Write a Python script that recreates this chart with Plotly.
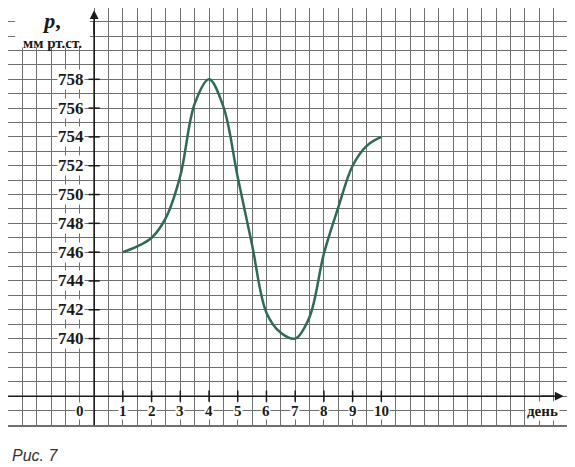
import plotly.graph_objects as go

# Data
days = [1, 1.5, 2, 2.5, 3, 3.5, 4, 4.5, 5, 5.5, 6, 6.5, 7, 7.5, 8, 8.5, 9, 9.5, 10]
pressure = [746, 746.4, 747, 748.4, 751.3, 756.3, 758, 756.1, 751.2, 746.5, 741.8, 740.4, 740,
            741.5, 745.9, 749.1, 752, 753.4, 754]
x_tick_vals = [1, 2, 3, 4, 5, 6, 7, 8, 9, 10]
x_tick_text = ["1", "2", "3", "4", "5", "6", "7", "8", "9", "10"]
y_tick_vals = [740, 742, 744, 746, 748, 750, 752, 754, 756, 758]
y_tick_text = ["740", "742", "744", "746", "748", "750", "752", "754", "756", "758"]

X_RANGE = [-3, 16.5]
Y_RANGE = [734, 762.95]
X_AXIS_Y = 736
GRID = "#707070"
INK = "#1a1a1a"
SERIF = "Liberation Serif"

fig = go.Figure()

# curve
fig.add_trace(go.Scatter(
    x=days, y=pressure, mode="lines",
    line=dict(color="#2e6b52", width=2.5, shape="spline", smoothing=1.0),
    hoverinfo="skip", showlegend=False,
))

# axis lines (drawn over the grid)
fig.add_trace(go.Scatter(x=[0, 0], y=[Y_RANGE[0], 762.0], mode="lines",
                         line=dict(color=INK, width=1.6), showlegend=False, hoverinfo="skip"))
fig.add_trace(go.Scatter(x=[X_RANGE[0], 16.0], y=[X_AXIS_Y, X_AXIS_Y], mode="lines",
                         line=dict(color=INK, width=1.6), showlegend=False, hoverinfo="skip"))

# tick marks
fig.add_trace(go.Scatter(
    x=x_tick_vals, y=[X_AXIS_Y] * len(x_tick_vals), mode="markers",
    marker=dict(symbol="line-ns", size=8, line=dict(color=INK, width=1.5)),
    showlegend=False, hoverinfo="skip"))
fig.add_trace(go.Scatter(
    x=[0] * len(y_tick_vals), y=y_tick_vals, mode="markers",
    marker=dict(symbol="line-ew", size=8, line=dict(color=INK, width=1.5)),
    showlegend=False, hoverinfo="skip"))

annotations = []
# arrows
annotations.append(dict(x=0, y=762.8, ax=0, ay=761.0, xref="x", yref="y", axref="x", ayref="y",
                        text="", showarrow=True, arrowhead=2, arrowsize=1.1, arrowwidth=1.6,
                        arrowcolor=INK, standoff=0))
annotations.append(dict(x=16.35, y=X_AXIS_Y, ax=15.5, ay=X_AXIS_Y, xref="x", yref="y", axref="x", ayref="y",
                        text="", showarrow=True, arrowhead=2, arrowsize=1.1, arrowwidth=1.6,
                        arrowcolor=INK, standoff=0))

# y labels
for v, t in zip(y_tick_vals, y_tick_text):
    annotations.append(dict(x=-0.8, y=v, xref="x", yref="y", text="<b>%s</b>" % t, showarrow=False,
                            font=dict(family=SERIF, size=17, color=INK), bgcolor="white",
                            borderpad=0, xanchor="center", yanchor="middle"))
# x labels
annotations.append(dict(x=-0.5, y=735, xref="x", yref="y", text="<b>0</b>", showarrow=False,
                        font=dict(family=SERIF, size=15, color=INK), bgcolor="white",
                        borderpad=0, xanchor="center", yanchor="middle"))
for v, t in zip(x_tick_vals, x_tick_text):
    annotations.append(dict(x=v, y=735, xref="x", yref="y", text="<b>%s</b>" % t, showarrow=False,
                            font=dict(family=SERIF, size=15, color=INK), bgcolor="white",
                            borderpad=0, xanchor="center", yanchor="middle"))
annotations.append(dict(x=15.6, y=735, xref="x", yref="y", text="<b>день</b>", showarrow=False,
                        font=dict(family=SERIF, size=15, color=INK), bgcolor="white",
                        borderpad=1, xanchor="center", yanchor="middle"))
# y title (one block: "p," over the unit)
annotations.append(dict(x=-1.45, y=761.45, xref="x", yref="y",
                        text="<b><i><span style='font-size:22px'>p</span></i>"
                             "<span style='font-size:22px'>,</span></b><br><b>мм рт.ст.</b>",
                        showarrow=False, align="center",
                        font=dict(family=SERIF, size=15, color=INK), xanchor="center", yanchor="middle"))
# caption
annotations.append(dict(x=2 / 560, y=-30 / 417, xref="paper", yref="paper", text="<i>Рис. 7</i>",
                        showarrow=False, font=dict(family="Liberation Sans", size=16, color="#333333"),
                        xanchor="left", yanchor="middle"))

# the page places the figure 8px from the top-left corner, so the figure is sized to fit
fig.update_layout(
    width=567, height=459,
    margin=dict(l=0, r=7, t=0, b=42),
    paper_bgcolor="white", plot_bgcolor="white",
    showlegend=False,
    annotations=annotations,
    shapes=[dict(type="rect", xref="x", yref="y", x0=-2.75, x1=-0.15, y0=760.2, y1=763.0,
                 fillcolor="white", line=dict(width=0), layer="above")],
    xaxis=dict(range=X_RANGE, tick0=-3, dtick=0.5, showgrid=True, gridcolor=GRID, gridwidth=1,
               showticklabels=False, ticks="", zeroline=False, showline=True, linecolor=GRID,
               linewidth=1.5, mirror=False, fixedrange=True),
    yaxis=dict(range=Y_RANGE, tick0=734, dtick=1, showgrid=True, gridcolor=GRID, gridwidth=1,
               showticklabels=False, ticks="", zeroline=False, showline=True, linecolor=GRID,
               linewidth=1.5, mirror=True, fixedrange=True),
)

fig.write_html("out.html")
